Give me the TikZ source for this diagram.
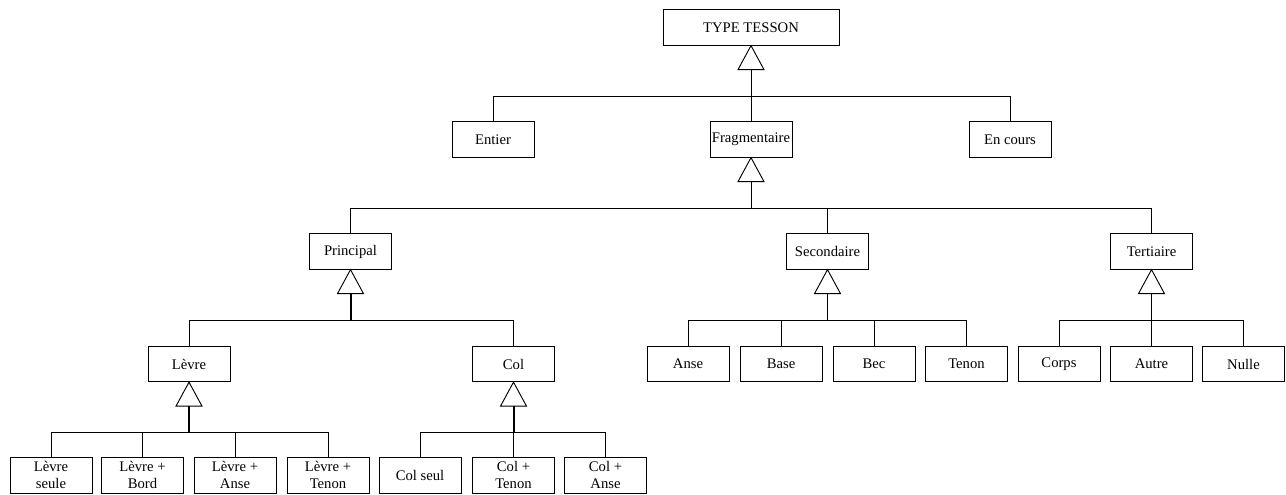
\documentclass[tikz,border=0pt]{standalone}
\usepackage{fontspec}
\setmainfont{Liberation Serif}
\usetikzlibrary{calc}
\begin{document}
\begin{tikzpicture}[x=0.75pt,y=-0.75pt,
  line width=0.7pt,
  box/.style={draw,rectangle,inner sep=0pt,align=center,
    minimum width=61.5pt,minimum height=26.5pt,
    font=\fontsize{11}{13}\selectfont},
  bigbox/.style={box,minimum width=132pt},
  lowbox/.style={box,minimum height=27pt},
  stem/.style={line width=1.5pt}]
\useasboundingbox (0,0) rectangle (1286,494);

% --- boxes
\node[bigbox] (root) at (751,27.5) {TYPE TESSON};

\node[box] (entier) at (493,139.5) {Entier};
\node[box] (frag)   at (751,139.5) {Fragmentaire};
\node[box] (encours) at (1010,139.5) {En cours};

\node[box] (princ) at (350.5,251.5) {Principal};
\node[box] (second) at (827.5,251.5) {Secondaire};
\node[box] (tert) at (1151.5,251.5) {Tertiaire};

\node[box] (levre) at (189,364) {Lèvre};
\node[box] (col) at (513.5,364) {Col};
\node[box] (anse) at (688,364) {Anse};
\node[box] (base) at (781,364) {Base};
\node[box] (bec) at (874,364) {Bec};
\node[box] (tenon) at (966.5,364) {Tenon};
\node[box] (corps) at (1059,364) {Corps};
\node[box] (autre) at (1151.5,364) {Autre};
\node[box] (nulle) at (1243.5,364) {Nulle};

\node[lowbox] (lseule) at (51,475) {Lèvre\\seule};
\node[lowbox] (lbord) at (142.5,475) {Lèvre +\\Bord};
\node[lowbox] (lanse) at (235,475) {Lèvre +\\Anse};
\node[lowbox] (ltenon) at (328,475) {Lèvre +\\Tenon};
\node[lowbox] (cseul) at (420,475) {Col seul};
\node[lowbox] (ctenon) at (513.5,475) {Col +\\Tenon};
\node[lowbox] (canse) at (605.5,475) {Col +\\Anse};

% --- junction points on the horizontal bars
\coordinate (j-root) at (751,96);
\coordinate (j-frag) at (751,208.5);
\coordinate (j-princ) at (350.5,320);
\coordinate (j-second) at (827.5,320);
\coordinate (j-tert) at (1151.5,320);
\coordinate (j-levre) at (189,432);
\coordinate (j-col) at (513.5,432);

% --- generalisation triangle under a parent, stem down to its bar
\newcommand{\genlink}[3]{%
  \draw (#1.south) -- ++(-13,24) -- ++(26,0) -- cycle;
  \draw[#3] ($(#1.south)+(0,24)$) -- (#2);
}
\genlink{root}{j-root}{}
\genlink{frag}{j-frag}{}
\genlink{princ}{j-princ}{stem}
\genlink{second}{j-second}{}
\genlink{tert}{j-tert}{}
\genlink{levre}{j-levre}{stem}
\genlink{col}{j-col}{stem}

% --- children hanging from the bars
\foreach \c in {entier,frag,encours} \draw (\c.north) |- (j-root);
\foreach \c in {princ,second,tert} \draw (\c.north) |- (j-frag);
\foreach \c in {levre,col} \draw (\c.north) |- (j-princ);
\foreach \c in {anse,base,bec,tenon} \draw (\c.north) |- (j-second);
\foreach \c in {corps,autre,nulle} \draw (\c.north) |- (j-tert);
\foreach \c in {lseule,lbord,lanse,ltenon} \draw (\c.north) |- (j-levre);
\foreach \c in {cseul,ctenon,canse} \draw (\c.north) |- (j-col);
\end{tikzpicture}
\end{document}
